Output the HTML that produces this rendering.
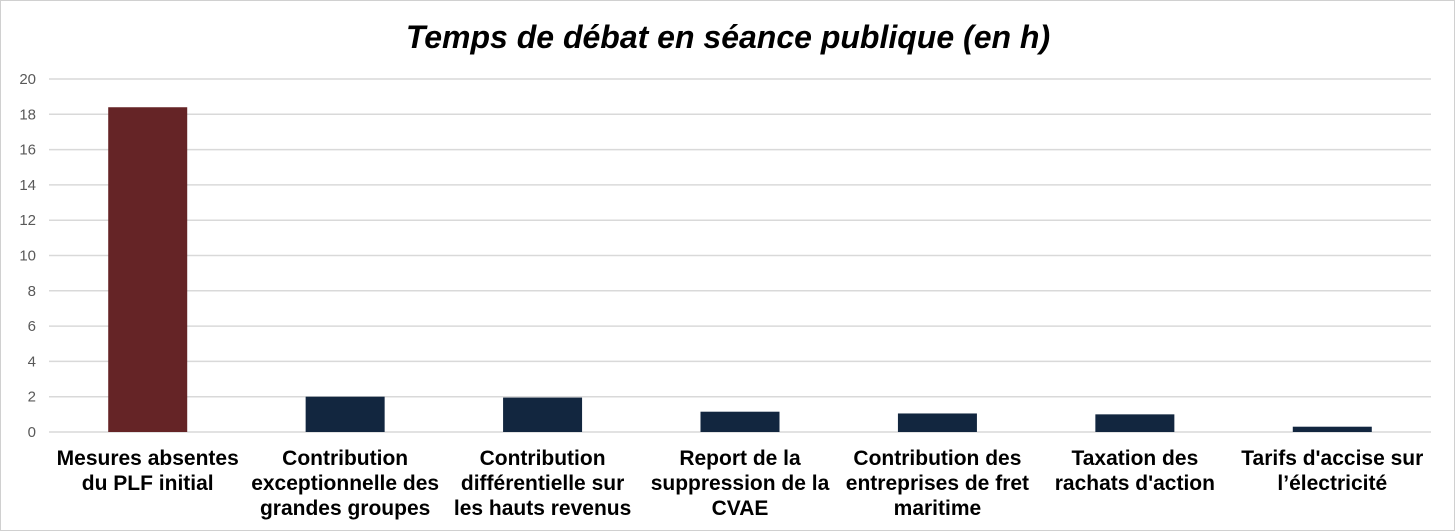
<!DOCTYPE html>
<html><head><meta charset="utf-8"><style>
html,body{margin:0;padding:0;background:#fff;}
svg{display:block;font-family:"Liberation Sans",Arial,sans-serif;}
</style></head><body>
<svg id="chart" width="1456" height="532">
<rect x="0.5" y="0.5" width="1454" height="530" fill="#fff" stroke="#d0d0d0"/>
<text x="728" y="48" text-anchor="middle" font-size="32" font-weight="bold" font-style="italic" fill="#000">Temps de débat en séance publique (en h)</text>
<g id="grid"></g><g id="bars"></g><g id="labels"></g>
</svg>
<script>
const categories=[["Mesures absentes","du PLF initial"],["Contribution","exceptionnelle des","grandes groupes"],["Contribution","différentielle sur","les hauts revenus"],["Report de la","suppression de la","CVAE"],["Contribution des","entreprises de fret","maritime"],["Taxation des","rachats d'action"],["Tarifs d'accise sur","l’électricité"]];
const values=[18.4,2.0,1.95,1.15,1.05,1.0,0.3];
const colors=["#652426","#12263f","#12263f","#12263f","#12263f","#12263f","#12263f"];
const ticks=[0,2,4,6,8,10,12,14,16,18,20];
const NS="http://www.w3.org/2000/svg";
const x0=49,x1=1431,y0=432,y1=79,ymax=20;
const bw=(x1-x0)/categories.length;
const y=v=>y0-(v/ymax)*(y0-y1);
const xc=i=>x0+bw*(i+0.5);
function mk(t,a,p){const e=document.createElementNS(NS,t);for(const k in a)e.setAttribute(k,a[k]);p.appendChild(e);return e;}
const g=document.getElementById('grid'),b=document.getElementById('bars'),l=document.getElementById('labels');
ticks.forEach(t=>{
const ln=mk('line',{x1:x0,x2:x1,y1:y(t),y2:y(t),stroke:'#d9d9d9','stroke-width':1.5},g);


const tx=mk('text',{x:36,y:y(t)+5,'text-anchor':'end','font-size':15,fill:'#595959'},g);
tx.textContent=t;


});
values.forEach((v,i)=>{
const r=mk('rect',{x:xc(i)-39.5,y:y(v),width:79,height:y0-y(v),fill:colors[i]},b);


const tx=mk('text',{x:xc(i),'text-anchor':'middle','font-size':21,'font-weight':'bold',fill:'#000'},l);


categories[i].forEach((s,j)=>{const ts=mk('tspan',{x:xc(i),y:465+j*25},tx);ts.textContent=s;});
});
</script>
</body></html>
